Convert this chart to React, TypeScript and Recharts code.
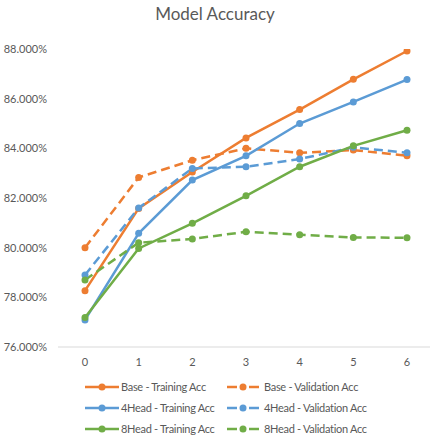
import React from 'react';
import { LineChart, Line, XAxis, YAxis, Legend } from 'recharts';

const epochs = [0, 1, 2, 3, 4, 5, 6];
const baseTrain = [78.27, 81.58, 83.05, 84.42, 85.56, 86.78, 87.92];
const baseVal = [80.0, 82.83, 83.52, 84.0, 83.82, 83.93, 83.7];
const head4Train = [77.09, 80.58, 82.72, 83.7, 85.0, 85.87, 86.77];
const head4Val = [78.9, 81.6, 83.19, 83.26, 83.57, 84.04, 83.82];
const head8Train = [77.19, 79.97, 80.98, 82.09, 83.26, 84.1, 84.73];
const head8Val = [78.7, 80.2, 80.35, 80.64, 80.52, 80.41, 80.4];
const yTicks = [76, 78, 80, 82, 84, 86, 88];

const ORANGE = '#ED7D31';
const BLUE = '#5B9BD5';
const GREEN = '#70AD47';
const FONT = 'Lato, "Open Sans", sans-serif';

const series = [
  { key: 'baseTrain', name: 'Base - Training Acc', color: ORANGE, dashed: false },
  { key: 'baseVal', name: 'Base - Validation Acc', color: ORANGE, dashed: true },
  { key: 'head4Train', name: '4Head - Training Acc', color: BLUE, dashed: false },
  { key: 'head4Val', name: '4Head - Validation Acc', color: BLUE, dashed: true },
  { key: 'head8Train', name: '8Head - Training Acc', color: GREEN, dashed: false },
  { key: 'head8Val', name: '8Head - Validation Acc', color: GREEN, dashed: true },
];

const data = epochs.map((e, i) => ({
  epoch: e,
  baseTrain: baseTrain[i],
  baseVal: baseVal[i],
  head4Train: head4Train[i],
  head4Val: head4Val[i],
  head8Train: head8Train[i],
  head8Val: head8Val[i],
}));

const LegendIcon = ({ color, dashed }: { color: string; dashed: boolean }) => (
  <svg width={34} height={10} style={{ display: 'block' }}>
    {dashed ? (
      <>
        <line x1={1} y1={5} x2={11} y2={5} stroke={color} strokeWidth={2.5} />
        <line x1={23} y1={5} x2={33} y2={5} stroke={color} strokeWidth={2.5} />
      </>
    ) : (
      <line x1={0} y1={5} x2={34} y2={5} stroke={color} strokeWidth={2.5} />
    )}
    <circle cx={17} cy={5} r={3.5} fill={color} />
  </svg>
);

const renderLegend = () => (
  <div
    style={{
      height: 67,
      boxSizing: 'border-box',
      position: 'relative',
      fontFamily: FONT,
      fontSize: 11,
      letterSpacing: -0.3,
      color: '#595959',
    }}
  >
    {series.map((s, i) => {
      const row = Math.floor(i / 2);
      const col = i % 2;
      return (
        <div
          key={s.key}
          style={{
            position: 'absolute',
            top: 4 + row * 21,
            left: col === 0 ? 85 : 226,
            height: 21,
            display: 'flex',
            alignItems: 'center',
            whiteSpace: 'nowrap',
          }}
        >
          <LegendIcon color={s.color} dashed={s.dashed} />
          <span style={{ marginLeft: col === 0 ? 2 : 4 }}>{s.name}</span>
        </div>
      );
    })}
  </div>
);

const App = () => {
  return (
    <div style={{ position: 'absolute', left: 0, top: 0, width: 430, height: 439, overflow: 'hidden', background: '#fff' }}>
      <div
        style={{
          position: 'absolute',
          top: 3,
          left: 0,
          width: 430,
          textAlign: 'center',
          fontFamily: FONT,
          fontSize: 17,
          color: '#595959',
        }}
      >
        Model Accuracy
      </div>
      <LineChart width={434} height={439} data={data} margin={{ top: 49, right: 0, bottom: 0, left: 0 }}>
        <XAxis
          dataKey="epoch"
          height={25}
          padding={{ left: 27, right: 27 }}
          tickLine={false}
          tickMargin={5}
          axisLine={{ stroke: '#d9d9d9' }}
          tick={{ fill: '#595959', fontSize: 11, fontFamily: FONT }}
        />
        <YAxis
          width={58}
          domain={[76, 88]}
          ticks={yTicks}
          allowDataOverflow
          axisLine={false}
          tickLine={false}
          tickMargin={5}
          tickFormatter={(v: number) => v.toFixed(3) + '%'}
          tick={{ fill: '#595959', fontSize: 11, fontFamily: FONT }}
        />
        <Legend verticalAlign="bottom" content={renderLegend} />
        {series.map((s) => (
          <Line
            key={s.key}
            dataKey={s.key}
            name={s.name}
            stroke={s.color}
            strokeWidth={2.5}
            strokeDasharray={s.dashed ? '9 5' : undefined}
            dot={{ r: 3.5, fill: s.color, stroke: s.color, strokeWidth: 0 }}
            isAnimationActive={false}
          />
        ))}
      </LineChart>
    </div>
  );
};

export default App;
